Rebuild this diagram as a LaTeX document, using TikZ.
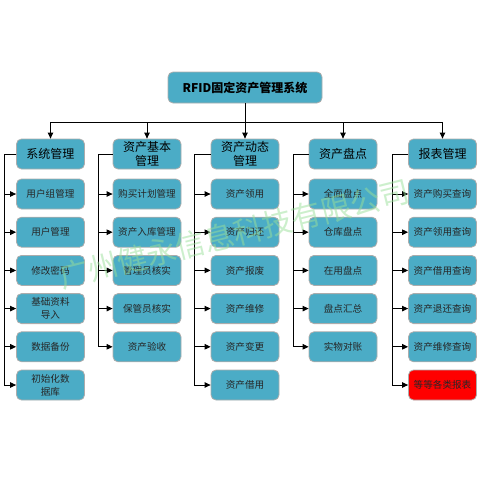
\documentclass[tikz,border=0pt]{standalone}
\usepackage{fontspec}
\newfontfamily\cjk{Noto Sans CJK SC}
\usetikzlibrary{arrows.meta}
\definecolor{boxc}{HTML}{4BACC6}
\definecolor{wm}{HTML}{9ADF9A}
\begin{document}
\begin{tikzpicture}[x=1pt,y=-1pt,
  basebox/.style={rounded corners=5pt, fill=boxc, draw=gray!65, line width=0.8pt,
    minimum width=68pt, minimum height=30pt, align=center, inner sep=1pt},
  titlebox/.style={basebox, minimum width=154pt, minimum height=31pt,
    font=\cjk\fontsize{12}{14}\selectfont\bfseries},
  headbox/.style={basebox, font=\cjk\fontsize{12}{13.5}\selectfont},
  itembox/.style={basebox, text=black!85, font=\cjk\fontsize{9.6}{13}\selectfont},
  redbox/.style={itembox, fill=red},
  conn/.style={draw=black, line width=0.9pt},
  arr/.style={conn, -{Triangle[length=6pt,width=5.5pt]}}]
\useasboundingbox (0,0) rectangle (480,480);

\node[titlebox] (t) at (245,87.5) {RFID固定资产管理系统};

\node[headbox] (h1) at (50.5,154) {系统管理};
\node[headbox] (h2) at (147,154) {资产基本\\管理};
\node[headbox] (h3) at (245,154) {资产动态\\管理};
\node[headbox] (h4) at (343,154) {资产盘点};
\node[headbox] (h5) at (442.5,154) {报表管理};

\coordinate (bus) at (245,122);
\draw[conn] (t.south) -- (bus);
\draw[arr] (bus) -| (h1.north);
\draw[arr] (bus) -| (h2.north);
\draw[arr] (t.south) -- (h3.north);
\draw[arr] (bus) -| (h4.north);
\draw[arr] (bus) -| (h5.north);

\coordinate (c1) at (4,0);
\coordinate (c2) at (98,0);
\coordinate (c3) at (194,0);
\coordinate (c4) at (293,0);
\coordinate (c5) at (392,0);

\foreach \txt [count=\i] in {用户组管理,用户管理,修改密码,{基础资料\\导入},数据备份,{初始化数\\据库}} {
  \node[itembox] (a\i) at (50.5,{194+38.2*(\i-1)}) {\txt};
  \draw[arr] (h1.west) -- (h1.west -| c1) |- (a\i.west);
}
\foreach \txt [count=\i] in {购买计划管理,资产入库管理,管理员核实,保管员核实,资产验收} {
  \node[itembox] (b\i) at (147,{194+38.2*(\i-1)}) {\txt};
  \draw[arr] (h2.west) -- (h2.west -| c2) |- (b\i.west);
}
\foreach \txt [count=\i] in {资产领用,资产归还,资产报废,资产维修,资产变更,资产借用} {
  \node[itembox] (d\i) at (245,{194+38.2*(\i-1)}) {\txt};
  \draw[arr] (h3.west) -- (h3.west -| c3) |- (d\i.west);
}
\foreach \txt [count=\i] in {全面盘点,仓库盘点,在用盘点,盘点汇总,实物对账} {
  \node[itembox] (e\i) at (343,{194+38.2*(\i-1)}) {\txt};
  \draw[arr] (h4.west) -- (h4.west -| c4) |- (e\i.west);
}
\foreach \txt [count=\i] in {资产购买查询,资产领用查询,资产借用查询,资产退还查询,资产维修查询} {
  \node[itembox] (f\i) at (442.5,{194+38.2*(\i-1)}) {\txt};
  \draw[arr] (h5.west) -- (h5.west -| c5) |- (f\i.west);
}
\node[redbox] (f6) at (442.5,385) {等等各类报表};
\draw[arr] (h5.west) -- (h5.west -| c5) |- (f6.west);

\node[text=wm, opacity=0.5, rotate=14, font=\cjk\fontsize{30}{31}\selectfont, inner sep=0pt] (wmk) at (234,234) {广州健永信息科技有限公司};
\end{tikzpicture}
\end{document}
